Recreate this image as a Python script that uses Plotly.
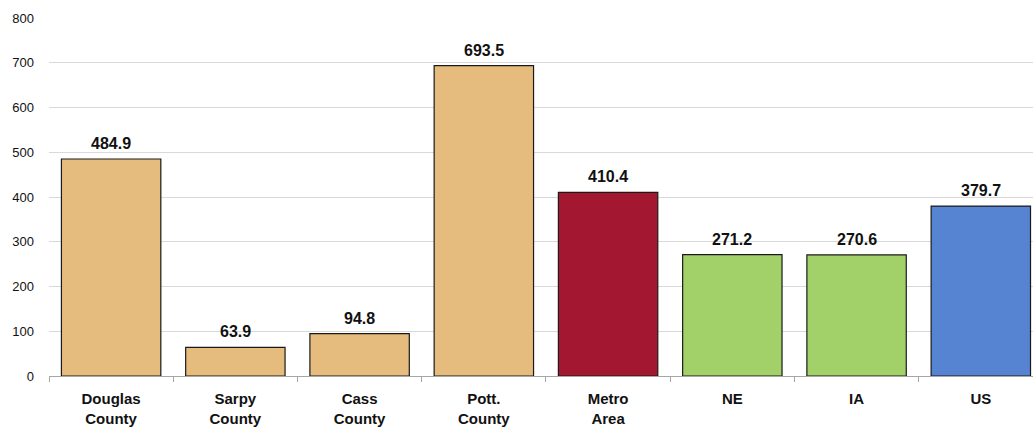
import plotly.graph_objects as go

categories = ["Douglas<br>County", "Sarpy<br>County", "Cass<br>County", "Pott.<br>County",
              "Metro<br>Area", "NE", "IA", "US"]
values = [484.9, 63.9, 94.8, 693.5, 410.4, 271.2, 270.6, 379.7]
colors = ["#E6BC7E", "#E6BC7E", "#E6BC7E", "#E6BC7E", "#A31830", "#A2D16A", "#A2D16A", "#5783D3"]
labels = [f"<b>{v:.1f}</b>" for v in values]
y_ticks = [0, 100, 200, 300, 400, 500, 600, 700, 800]

FONT = "Liberation Sans, Arial"

fig = go.Figure(go.Bar(
    x=categories, y=values,
    marker=dict(color=colors, line=dict(color="#1a1a1a", width=1.2)),
    width=0.8,
    hoverinfo="skip",
))

for c, v, t in zip(categories, values, labels):
    fig.add_annotation(x=c, y=v, text=t, showarrow=False, yanchor="bottom", yshift=5,
                       font=dict(family=FONT, size=16, color="#111"))

fig.update_layout(
    width=1033, height=432,
    margin=dict(l=49, r=0, t=18, b=56),
    plot_bgcolor="white", paper_bgcolor="white",
    showlegend=False,
    font=dict(family=FONT, color="#111"),
    xaxis=dict(
        range=[-0.5, 7.42], automargin=False,
        tickson="boundaries", ticks="outside", ticklen=5, tickcolor="#a6a6a6",
        showline=True, linecolor="#a6a6a6", linewidth=1,
        tickfont=dict(family=FONT, size=15, color="#111"),
        tickvals=categories,
        ticktext=[f"<b>{c}</b>" for c in categories],
        ticklabelstandoff=9,
    ),
    yaxis=dict(
        range=[0, 800], tickvals=y_ticks, automargin=False,
        showgrid=True, gridcolor="#d9d9d9", gridwidth=1,
        zeroline=False, showline=False,
        tickfont=dict(family=FONT, size=13, color="#111"),
        ticklabelstandoff=14,
    ),
)

fig.write_html("out.html", config={"displayModeBar": False},
               post_script="document.body.style.margin='0';")
